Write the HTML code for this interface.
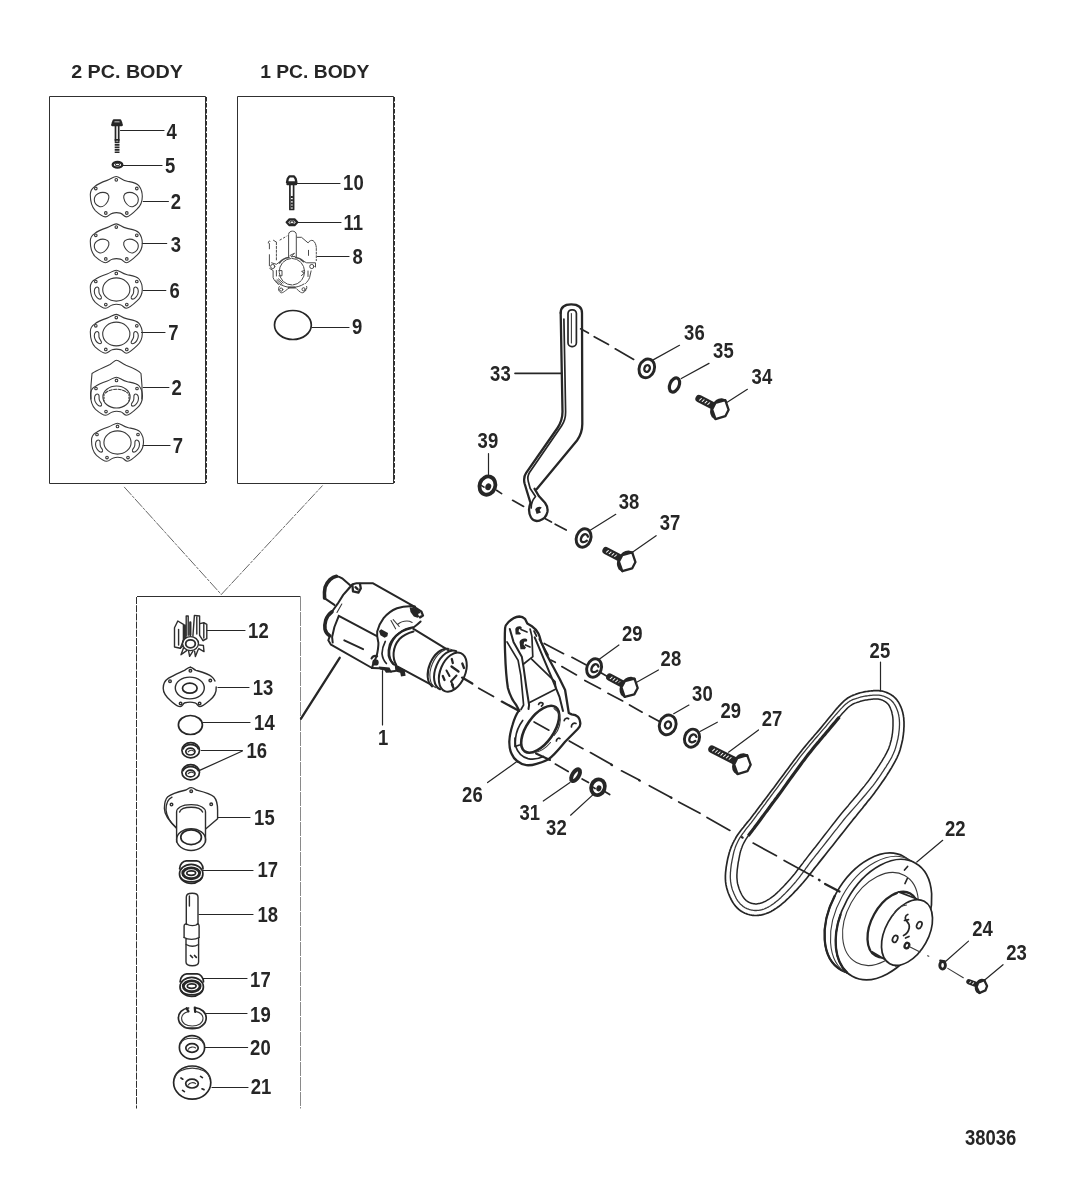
<!DOCTYPE html>
<html lang="en"><head><meta charset="utf-8"><title>Sea Water Pump Assembly 38036</title>
<style>
html,body{margin:0;padding:0;background:#fff;}
svg{display:block;}
text{font-family:"Liberation Sans",Arial,Helvetica,sans-serif;font-weight:bold;font-size:21.5px;fill:#262626;}
.t{font-size:18px;}
.l{fill:none;stroke:#262626;stroke-width:1.3;stroke-linecap:round;stroke-linejoin:round;}
.m{fill:none;stroke:#262626;stroke-width:1.7;stroke-linecap:round;stroke-linejoin:round;}
.h{fill:none;stroke:#262626;stroke-width:2.3;stroke-linecap:round;stroke-linejoin:round;}
.f{fill:none;stroke:#555;stroke-width:1;stroke-linecap:round;stroke-linejoin:round;}
.g{fill:none;stroke:#888;stroke-width:0.9;stroke-linecap:round;stroke-linejoin:round;}
.x{fill:none;stroke:#262626;stroke-width:2.9;stroke-linecap:round;stroke-linejoin:round;}
.q{fill:none;stroke:#262626;stroke-width:2;stroke-linecap:round;stroke-linejoin:round;}
.xx{fill:none;stroke:#262626;stroke-width:3.6;stroke-linecap:round;stroke-linejoin:round;}
.n{fill:none;stroke:#2e2e2e;stroke-width:1.4;stroke-linecap:round;stroke-linejoin:round;}
.w{fill:#fff;}
.p{fill:none;stroke:#3a3a3a;stroke-width:1.1;stroke-linecap:round;stroke-linejoin:round;}
.ld{fill:none;stroke:#262626;stroke-width:1.2;stroke-linecap:round;}
.fr{fill:none;stroke:#303030;stroke-width:1;}
.fd{fill:none;stroke:#303030;stroke-width:1;stroke-dasharray:4.5 1.5;}
.g8{fill:none;stroke:#4a4a4a;stroke-width:1;stroke-linecap:round;stroke-linejoin:round;}
.k{fill:#262626;stroke:none;}
</style></head>
<body>
<svg width="1084" height="1192" viewBox="0 0 1084 1192">
<rect width="1084" height="1192" fill="#fff"/>
<g id="frames">
<path class="fr" d="M49.5 483.5V96.5H205.5V483.5Z"/>
<path class="fd" d="M206.5 97V483"/>
<path class="fr" d="M237.5 483.5V96.5H393.5V483.5Z"/>
<path class="fd" d="M394.5 97V483"/>
<path class="fr" d="M137 596.5H300.5"/>
<path class="fd" d="M136.5 597V1108.5" style="stroke-dasharray:7 1.2"/><path class="fd" d="M300.5 597V1108.5" style="stroke:#8a8a8a;stroke-dasharray:14 1"/>
<path class="g" d="M124.4 487.2L221.3 594.5L322.3 485.8" stroke-dasharray="10 2 2 2" style="stroke:#555;stroke-width:0.9"/>
</g>
<path class="ld" d="M120.5 130.5L164.0 130.5M122.2 165.5L162.0 165.5M143.2 201.5L168.4 201.5M142.3 243.5L166.7 243.5M143.2 290.5L165.8 290.5M141.5 332.5L165.0 332.5M143.2 387.5L168.9 387.5M143.0 445.5L170.0 445.5M297.0 183.5L340.0 183.5M298.0 222.5L341.0 222.5M317.5 256.5L349.0 256.5M312.0 327.5L349.0 327.5M207.0 630.5L245.0 630.5M218.0 687.5L249.0 687.5M203.0 722.5L250.0 722.5M201.3 750.5L242.4 750.5M199.6 770.4L242.4 751.0M218.0 817.5L250.0 817.5M203.0 870.5L253.0 870.5M199.0 914.5L253.0 914.5M203.0 978.5L247.0 978.5M206.0 1013.5L247.0 1013.5M205.0 1047.5L247.6 1047.5M212.0 1087.5L248.0 1087.5M382.5 670.7L382.5 725.0M487.6 782.6L516.6 761.7M543.3 801.0L570.0 782.6M570.6 815.2L593.1 794.6M599.6 658.9L618.9 645.0M636.7 682.2L658.4 670.0M673.7 713.7L688.9 705.1M700.0 731.5L717.3 722.2M728.5 752.2L758.5 729.9M880.5 662.0L880.5 690.8M942.7 840.3L916.8 862.0M968.5 941.1L945.8 961.2M1003.0 964.7L985.0 979.8M488.5 453.6L488.5 474.6M653.6 359.6L679.5 345.3M681.3 378.5L709.0 363.4M726.0 403.1L747.4 389.3M590.2 530.2L615.8 514.3M631.7 552.8L656.1 535.7"/>
<path class="m" d="M515 373.3H562"/>
<path class="h" d="M301 718.7L339.7 657.8"/>
<g id="box1"><path class="h" d="M113.8 120.4H120.2L121.4 123.4H112.6ZM112.2 125H121.8"/><path class="m" d="M115.5 125.5V141M118.7 125.5V141"/><path d="M117.1 139V153" fill="none" stroke="#262626" stroke-width="4.8" stroke-dasharray="1.7 0.8"/>
<ellipse class="h" cx="117.5" cy="164.8" rx="4.8" ry="2.8"/><ellipse class="p" cx="117.5" cy="164.4" rx="2.2" ry="1.2"/>
<g class="p" transform="translate(116.3,196.4) scale(1.0,1.06)"><path d="M0,-18.8C3,-18.8 5,-15.5 10.9,-14.3C16,-13.3 20,-13 22.7,-10C25,-7 26,-3 26,0C26,5 24,9 21,11.7C17,15.5 13,19.3 10,19.3C7.5,19.3 7,16.5 4,15.8C2,15.3 -2,15.3 -4.2,16C-7,16.8 -8,19.3 -10.9,19.3C-14,19.3 -18,16 -21,13.4C-24,10.5 -26,5 -26,-1.7C-26,-5 -24.5,-7.5 -21.8,-9.2C-19,-11.5 -14,-13.5 -9.2,-15.1C-5,-16.5 -3,-18.8 0,-18.8Z"/><circle cx="0" cy="-15.6" r="1.3"/><circle cx="-20.5" cy="-7.5" r="1.3"/><circle cx="20.5" cy="-7.5" r="1.3"/><circle cx="-10.5" cy="15.6" r="1.3"/><circle cx="10.5" cy="15.6" r="1.3"/><path d="M-22,3C-22,-2 -16,-4.5 -11,-3.5C-7,-2.7 -6.5,1 -8.5,4.5C-10.5,8 -14,10.5 -17,9.5C-20,8.5 -22,6 -22,3Z"/><path d="M22,3C22,-2 16,-4.5 11,-3.5C7,-2.7 6.5,1 8.5,4.5C10.5,8 14,10.5 17,9.5C20,8.5 22,6 22,3Z"/></g>
<g class="p" transform="translate(116.3,243) scale(1.0,1.02)"><path d="M0,-18.8C3,-18.8 5,-15.5 10.9,-14.3C16,-13.3 20,-13 22.7,-10C25,-7 26,-3 26,0C26,5 24,9 21,11.7C17,15.5 13,19.3 10,19.3C7.5,19.3 7,16.5 4,15.8C2,15.3 -2,15.3 -4.2,16C-7,16.8 -8,19.3 -10.9,19.3C-14,19.3 -18,16 -21,13.4C-24,10.5 -26,5 -26,-1.7C-26,-5 -24.5,-7.5 -21.8,-9.2C-19,-11.5 -14,-13.5 -9.2,-15.1C-5,-16.5 -3,-18.8 0,-18.8Z"/><circle cx="0" cy="-15.6" r="1.3"/><circle cx="-20.5" cy="-7.5" r="1.3"/><circle cx="20.5" cy="-7.5" r="1.3"/><circle cx="-10.5" cy="15.6" r="1.3"/><circle cx="10.5" cy="15.6" r="1.3"/><path d="M-22,3C-22,-2 -16,-4.5 -11,-3.5C-7,-2.7 -6.5,1 -8.5,4.5C-10.5,8 -14,10.5 -17,9.5C-20,8.5 -22,6 -22,3Z"/><path d="M22,3C22,-2 16,-4.5 11,-3.5C7,-2.7 6.5,1 8.5,4.5C10.5,8 14,10.5 17,9.5C20,8.5 22,6 22,3Z"/></g>
<g class="p" transform="translate(116.3,289) scale(1,1)"><path d="M0,-18.8C3,-18.8 5,-15.5 10.9,-14.3C16,-13.3 20,-13 22.7,-10C25,-7 26,-3 26,0C26,5 24,9 21,11.7C17,15.5 13,19.3 10,19.3C7.5,19.3 7,16.5 4,15.8C2,15.3 -2,15.3 -4.2,16C-7,16.8 -8,19.3 -10.9,19.3C-14,19.3 -18,16 -21,13.4C-24,10.5 -26,5 -26,-1.7C-26,-5 -24.5,-7.5 -21.8,-9.2C-19,-11.5 -14,-13.5 -9.2,-15.1C-5,-16.5 -3,-18.8 0,-18.8Z"/><circle cx="0" cy="-15.6" r="1.3"/><circle cx="-20.5" cy="-7.5" r="1.3"/><circle cx="20.5" cy="-7.5" r="1.3"/><circle cx="-10.5" cy="15.6" r="1.3"/><circle cx="10.5" cy="15.6" r="1.3"/><ellipse cx="0" cy="0.5" rx="13.6" ry="11.6"/><path d="M-20.5,-1.5C-22.5,0 -22.5,4 -20.5,7C-19,9.3 -16.5,11 -15,9.5C-13.8,8.3 -16,6.8 -17,4.5C-18,2 -16.8,0 -17.8,-1.2C-18.5,-2 -19.5,-2.2 -20.5,-1.5Z"/><path d="M20.5,-1.5C22.5,0 22.5,4 20.5,7C19,9.3 16.5,11 15,9.5C13.8,8.3 16,6.8 17,4.5C18,2 16.8,0 17.8,-1.2C18.5,-2 19.5,-2.2 20.5,-1.5Z"/></g>
<g class="p" transform="translate(116.3,333.5) scale(1.0,1.02)"><path d="M0,-18.8C3,-18.8 5,-15.5 10.9,-14.3C16,-13.3 20,-13 22.7,-10C25,-7 26,-3 26,0C26,5 24,9 21,11.7C17,15.5 13,19.3 10,19.3C7.5,19.3 7,16.5 4,15.8C2,15.3 -2,15.3 -4.2,16C-7,16.8 -8,19.3 -10.9,19.3C-14,19.3 -18,16 -21,13.4C-24,10.5 -26,5 -26,-1.7C-26,-5 -24.5,-7.5 -21.8,-9.2C-19,-11.5 -14,-13.5 -9.2,-15.1C-5,-16.5 -3,-18.8 0,-18.8Z"/><circle cx="0" cy="-15.6" r="1.3"/><circle cx="-20.5" cy="-7.5" r="1.3"/><circle cx="20.5" cy="-7.5" r="1.3"/><circle cx="-10.5" cy="15.6" r="1.3"/><circle cx="10.5" cy="15.6" r="1.3"/><ellipse cx="0" cy="0.5" rx="13.6" ry="11.6"/><path d="M-20.5,-1.5C-22.5,0 -22.5,4 -20.5,7C-19,9.3 -16.5,11 -15,9.5C-13.8,8.3 -16,6.8 -17,4.5C-18,2 -16.8,0 -17.8,-1.2C-18.5,-2 -19.5,-2.2 -20.5,-1.5Z"/><path d="M20.5,-1.5C22.5,0 22.5,4 20.5,7C19,9.3 16.5,11 15,9.5C13.8,8.3 16,6.8 17,4.5C18,2 16.8,0 17.8,-1.2C18.5,-2 19.5,-2.2 20.5,-1.5Z"/></g>
<path class="p" d="M91,399C90.6,390 91,381 92,373.5C96,370.5 104,367.5 110,364.5C113,362.5 115,360.3 116.5,360.3C119,360.3 121,363 126,365.3C132,367.5 138,369.5 141,373.5C142,381 142.3,390 141.8,399"/>
<g class="p" transform="translate(116.5,396)"><path d="M0,-18.8C3,-18.8 5,-15.5 10.9,-14.3C16,-13.3 20,-13 22.7,-10C25,-7 26,-3 26,0C26,5 24,9 21,11.7C17,15.5 13,19.3 10,19.3C7.5,19.3 7,16.5 4,15.8C2,15.3 -2,15.3 -4.2,16C-7,16.8 -8,19.3 -10.9,19.3C-14,19.3 -18,16 -21,13.4C-24,10.5 -26,5 -26,-1.7C-26,-5 -24.5,-7.5 -21.8,-9.2C-19,-11.5 -14,-13.5 -9.2,-15.1C-5,-16.5 -3,-18.8 0,-18.8Z"/><circle cx="0" cy="-15.6" r="1.3"/><circle cx="-20.5" cy="-7.5" r="1.3"/><circle cx="20.5" cy="-7.5" r="1.3"/><circle cx="-10.5" cy="15.6" r="1.3"/><circle cx="10.5" cy="15.6" r="1.3"/><ellipse cx="0" cy="1" rx="13.6" ry="11"/><path d="M-11,-3C-6,-8 6,-8 11,-3" stroke-dasharray="3 1.5"/><path d="M-12.5,-2V5M12.5,-2V5" stroke-dasharray="1.5 1.5"/><path d="M-20.5,-1.5C-22.5,0 -22.5,4 -20.5,7C-19,9.3 -16.5,11 -15,9.5C-13.8,8.3 -16,6.8 -17,4.5C-18,2 -16.8,0 -17.8,-1.2C-18.5,-2 -19.5,-2.2 -20.5,-1.5Z"/><path d="M20.5,-1.5C22.5,0 22.5,4 20.5,7C19,9.3 16.5,11 15,9.5C13.8,8.3 16,6.8 17,4.5C18,2 16.8,0 17.8,-1.2C18.5,-2 19.5,-2.2 20.5,-1.5Z"/></g>
<g class="p" transform="translate(117.5,442) scale(1,1)"><path d="M0,-18.8C3,-18.8 5,-15.5 10.9,-14.3C16,-13.3 20,-13 22.7,-10C25,-7 26,-3 26,0C26,5 24,9 21,11.7C17,15.5 13,19.3 10,19.3C7.5,19.3 7,16.5 4,15.8C2,15.3 -2,15.3 -4.2,16C-7,16.8 -8,19.3 -10.9,19.3C-14,19.3 -18,16 -21,13.4C-24,10.5 -26,5 -26,-1.7C-26,-5 -24.5,-7.5 -21.8,-9.2C-19,-11.5 -14,-13.5 -9.2,-15.1C-5,-16.5 -3,-18.8 0,-18.8Z"/><circle cx="0" cy="-15.6" r="1.3"/><circle cx="-20.5" cy="-7.5" r="1.3"/><circle cx="20.5" cy="-7.5" r="1.3"/><circle cx="-10.5" cy="15.6" r="1.3"/><circle cx="10.5" cy="15.6" r="1.3"/><ellipse cx="0" cy="0.5" rx="13.6" ry="11.6"/><path d="M-20.5,-1.5C-22.5,0 -22.5,4 -20.5,7C-19,9.3 -16.5,11 -15,9.5C-13.8,8.3 -16,6.8 -17,4.5C-18,2 -16.8,0 -17.8,-1.2C-18.5,-2 -19.5,-2.2 -20.5,-1.5Z"/><path d="M20.5,-1.5C22.5,0 22.5,4 20.5,7C19,9.3 16.5,11 15,9.5C13.8,8.3 16,6.8 17,4.5C18,2 16.8,0 17.8,-1.2C18.5,-2 19.5,-2.2 20.5,-1.5Z"/></g></g>
<g id="box2">
<path class="h" d="M287.8 178.6L289.4 176.4H294L295.6 178.6L296.4 182.4H287ZM287.5 184.2H296"/>
<path class="m" d="M289.9 184.5V209.5H293.6V184.5"/>
<path d="M291.8 196V209" fill="none" stroke="#262626" stroke-width="2.2" stroke-dasharray="2 1.2"/>
<path class="h" d="M286.7 222.3L289.5 219.4H294.5L297.3 222.3L294.5 225.2H289.5Z"/><ellipse class="p" cx="292" cy="222.2" rx="2.1" ry="1.3"/>
<g class="g8">
<path d="M288.6 256.9V234.5C288.6 230 296.3 230 296.3 234.5V256.9"/>
<path d="M268.3 243C268.3 241.2 269.2 240.6 270 241.2" /><path d="M269.4 243.6V248.8M269.4 254.7V265.8"/>
<path d="M273.5 240.3L276.4 242.1"/><path d="M276.4 242.5V261.3" stroke-dasharray="2.2 1.6"/>
<path d="M280 240L287 236" stroke-dasharray="1.6 2.4"/>
<path d="M297.1 237.3H301.5L308.1 242.9C309 241 311.5 239.8 313 240.6C315 241.8 316 244.5 316.3 247.3"/>
<path d="M316.3 248.5V260.6" stroke-dasharray="2 1.6"/>
<path d="M308.5 250.3V255.4"/>
<ellipse cx="291.9" cy="271.7" rx="12.7" ry="13.3" stroke-dasharray="9 1.2"/>
<path d="M279.5 263C282 259.5 286 257.8 289 257.6M295.5 257.6C298 257.8 301 259 303.6 261.6" style="stroke-width:1.5"/>
<path d="M290 255.5L294.5 253.2L291 256.8L295 256.4"/>
<circle cx="272.7" cy="266.5" r="2.1"/><circle cx="311.8" cy="266.5" r="2.1"/>
<path d="M271.6 262.8L276.4 264.3L281 261M300.8 259.9L306.7 262.8H315.5V267"/>
<path d="M269.8 268.5L273.1 270.5V277.6C274 280 276 282.5 278.5 284.5M276.4 270.5V276"/>
<path d="M311.1 270.9L309.6 277.6C308.6 280 307.5 281.6 305.5 283.5M308 271V276.5"/>
<path d="M278.8 270.6H282V275.8H279M304.4 270.6L301.6 271.4L304.2 273.2L301.4 275.6"/>
<path d="M275.7 280.5L280.8 285M277 279.6L282 284M278.4 278.8L283.2 283" />
<path d="M279.4 286.4C278 288 278 291 280.8 292.7C283 293.5 286 290 289.7 287.5H294.9C298.5 290 300 293.2 302.8 292.7C305.9 291.5 307.3 288.5 306.7 286.4" stroke-dasharray="5 1.3"/>
<path d="M280.5 284.5C284 286.5 288 287.4 291.9 287.4C296 287.4 300.5 286.3 304 284" />
<path d="M288.8 287.6H294.6" style="stroke-width:2"/>
<circle cx="281.2" cy="289.6" r="1.6"/><circle cx="303.6" cy="289.3" r="1.6"/>
</g>
<ellipse class="m" cx="292.9" cy="325" rx="18.4" ry="14.5"/>
</g>
<g id="box3"><g class="n">
<path d="M174.5 647V627.8L177.8 621L183.4 624.4V640.3M174.5 647L180.3 648.2L183.2 641"/>
<path d="M178.6 629.5V645"/>
<path d="M186.2 636V616H188.2V635.3"/>
<path d="M184.8 625.5V637M190.3 622.5V635" style="stroke-width:2.3"/>
<path d="M192.9 636.1L194.4 615.4L199.6 616V635.3M196.8 616.2V634"/>
<path d="M199.8 623.6L203.8 622.7L206.8 624.4V638.7L203.2 640.5M203.8 622.7V638"/>
<path d="M199.6 635.3L203 640.6M183.4 640.3L186 637"/>
<path d="M183.5 648L181 654.8L186.6 650.6M188.6 651.2L189.6 656.4L192.8 651.4M194.6 651.2L195.4 656.6L198.2 649.6M198.8 648.6L204 651.6L203.4 645.4L199.4 645"/>
<path d="M180.3 648.2L183 646"/>
<ellipse cx="190.5" cy="643.6" rx="8" ry="7"/>
<ellipse cx="190.5" cy="643.8" rx="4.8" ry="4" style="stroke-width:1.8"/>
</g>
<g class="n">
<path d="M190.4 667.2C192.5 667.2 193.5 669.5 196 670.3C202 672 208 673.5 211.5 676.5C213.5 678.2 214.5 679.5 215 681" />
<path d="M216.2 687C216.6 692 214 697 209.5 700.5C206.5 703 203 706.6 199.8 706.6C197.5 706.6 197.5 703.5 195 702.8C192 702 188 702 185 702.8C182.5 703.5 182.8 706.6 180.3 706.6C177 706.6 174 703.5 171 701C166.5 697.2 163.2 693 163.2 688.2C163.2 684 165 680.5 168.6 678.2C173 675.5 180 672.5 184.5 670.3C187 669 188.3 667.2 190.4 667.2"/>
<ellipse cx="189.8" cy="688" rx="14.5" ry="10.9"/>
<ellipse class="m" cx="189.8" cy="688.2" rx="7.3" ry="5"/>
<circle cx="190.4" cy="670.8" r="1.3"/><circle cx="170" cy="681.2" r="1.3"/><circle cx="210.3" cy="680.6" r="1.3"/><circle cx="180.6" cy="703.5" r="1.3"/><circle cx="199.6" cy="703.5" r="1.3"/>
</g>
<ellipse class="m" cx="190.4" cy="725" rx="12" ry="9.5"/>
<g transform="translate(190.7,750.3)"><ellipse class="m" cx="0" cy="0" rx="8.8" ry="7.6"/><path class="m" d="M-7.6,-1.5C-5,-7 5,-7 7.6,-1.5"/><ellipse class="m" cx="-0.3" cy="1.3" rx="4.6" ry="3.4"/><path class="p" d="M-2.5,1.5C-1,-0.5 2,-0.5 2.8,0.8"/></g>
<g transform="translate(190.7,772.2)"><ellipse class="m" cx="0" cy="0" rx="8.8" ry="7.6"/><path class="m" d="M-7.6,-1.5C-5,-7 5,-7 7.6,-1.5"/><ellipse class="m" cx="-0.3" cy="1.3" rx="4.6" ry="3.4"/><path class="p" d="M-2.5,1.5C-1,-0.5 2,-0.5 2.8,0.8"/></g>
<g class="n">
<path d="M176.3 828C171 823 164.4 816 164.4 808.6C164.4 803 165.5 799 167.8 796.8C172 793.5 180 791.5 185 790.3C187.5 789.7 188.5 787.6 191.2 787.6C194 787.6 194.8 789.7 197 790.3C203 791.8 210.5 793.6 213.9 796.8C216.5 799.5 217.6 804 217.6 810.3V818.7L205.6 829"/>
<path d="M166 810C166 802 168 799 172 797.2M176 827.5C170 822 166.5 816 166 810" />
<path d="M176.6 842V812C176.6 808.5 181 804.6 191.2 804.6C201 804.6 205.5 808.5 205.5 812V842"/>
<path d="M179.6 812C180.5 809.3 185 807.3 191.2 807.3C197.5 807.3 201.5 809.3 202.6 812" />
<ellipse cx="191.1" cy="839.6" rx="14.5" ry="10.9"/>
<ellipse class="m" cx="191.1" cy="837.2" rx="10.3" ry="7.4"/>
<circle cx="191.2" cy="791.2" r="1.3"/><circle cx="171.5" cy="804.6" r="1.3"/><circle cx="211.2" cy="804.3" r="1.3"/>
</g>
<g transform="translate(191.2,872.3)"><path class="m" d="M-11.6,-3.5C-11.6,-8 -8,-11.3 -5,-11.5H5.5C8.5,-11.3 11.8,-8 11.8,-3.5"/><ellipse class="m" cx="0" cy="1.6" rx="11.7" ry="9.6"/><ellipse class="x" cx="0" cy="1" rx="8.4" ry="5.4"/><ellipse class="m" cx="0" cy="0.8" rx="4.4" ry="2.3"/><path class="m" d="M-10.5,5.5C-7,11 7,11 10.5,5.5"/></g>
<g class="n">
<path d="M186.3 924V897C186.3 892 198 892 198 897V924"/>
<path d="M189.4 896V906" /><path d="M186.3 924C190 926 195 926 198 924"/>
<path d="M184.1 937.5V926C184.1 924 186 923.6 187 924.4M199.1 937.5V926C199.1 924 197.5 923.6 196.8 924.4"/>
<path d="M184.1 937.5C188 940 195 940 199.1 937.5M186 938.6V962C186 967 198.6 967 198.6 962V938.6"/>
<path d="M186.2 944.5C190 946.6 195 946.6 198.5 944.5"/>
<path class="m" d="M190.5 955.5L192.5 957.5M194.5 955.5L196.3 957.3"/>
</g>
<g transform="translate(191.7,985.3)"><path class="m" d="M-11.6,-3.5C-11.6,-8 -8,-11.3 -5,-11.5H5.5C8.5,-11.3 11.8,-8 11.8,-3.5"/><ellipse class="m" cx="0" cy="1.6" rx="11.7" ry="9.6"/><ellipse class="x" cx="0" cy="1" rx="8.4" ry="5.4"/><ellipse class="m" cx="0" cy="0.8" rx="4.4" ry="2.3"/><path class="m" d="M-10.5,5.5C-7,11 7,11 10.5,5.5"/></g>
<g>
<path class="m" d="M188.6 1008C182 1008.6 178.4 1013 178.4 1018C178.4 1024 184 1028.6 192.2 1028.6C200.5 1028.6 206.2 1024 206.2 1018C206.2 1012.5 201.5 1008.3 195 1007.6"/>
<path class="p" d="M187.8 1011.8C183.5 1013 181.6 1015.5 181.6 1018.6C181.6 1023 186 1026 192.2 1026C198.5 1026 203 1023 203 1018.6C203 1015 200.5 1012.6 196.5 1011.6"/>
<path class="h" d="M186.6 1008.2L188.4 1011.4M194.8 1007.6L195.2 1011.8"/>
<path class="p" d="M180 1023L184.8 1027.8H199.5L204.6 1022.8"/>
</g>
<g>
<ellipse class="m" cx="192" cy="1047.4" rx="12.6" ry="11.7"/>
<path class="p" d="M180.8 1043.5C183 1036.5 201 1036.5 203.4 1043.5"/>
<ellipse class="m" cx="192" cy="1048" rx="6.2" ry="4.3"/>
<path class="p" d="M188.3 1049.2C189.5 1046.6 194 1046.6 195.6 1048"/>
</g>
<g>
<ellipse class="m" cx="192.2" cy="1082.6" rx="18.6" ry="16.6"/>
<path class="p" d="M174.6 1079C177 1064.5 207.5 1064.5 209.8 1079"/>
<ellipse class="m" cx="192" cy="1083.6" rx="6.3" ry="4.4"/>
<path class="p" d="M188.3 1085C189.5 1082.2 194 1082.2 195.6 1083.6"/>
<path class="m" d="M181 1078L182.8 1079.2M200.6 1076.4L202.4 1077.6M182.6 1090.4L184.4 1091.6M202 1088.8L204 1089.6"/>
</g></g>
<g id="pump">
<path class="xx" d="M324.6 598C324.2 594 324.4 590.5 325.1 587.3C326.2 584 328 581.5 330 579.6C332 577.8 334.3 576.6 336.4 576.3"/>
<path class="q" d="M336.4 576.2C338.8 576.4 340.4 577.2 342.1 578.3L351 586C348.5 589 345.8 591.8 343.2 594.9L337.7 603.7L332.1 611.5"/>
<path class="q" d="M324.4 598.2L334.4 604.9"/>
<path class="xx" d="M332 611.8C329 614 326.8 617 325.7 620.4C324.8 623.5 324.6 626.4 325 629.2C325.6 632 327.5 634.4 329.7 635.7"/>
<path class="q" d="M329.9 635.9L328.3 640.3L331 644.7L372 668"/>
<path class="q" d="M338.8 615.9L334.4 627L332.1 637L332.7 642.5M338.8 615.9L376.4 635.9"/>
<path class="p" d="M337 612.5L341.8 604"/>
<path class="q" d="M344.3 640.3L363.1 649.1"/>
<path class="q" d="M351 586L352.6 584.2L356.5 583.3H373.1L415.2 607.1"/>
<path class="h" d="M352.4 585L353 591.4L358.4 592.6L360.8 588.4L360 584"/>
<path class="h" d="M355.5 587.2L357.6 589.2"/>
<path class="h" d="M410.7 605.2L416.5 608.5L421.5 611.8L423 615.6L420 617.4"/>
<path class="k" d="M409.6 607.2L416 608.6L420 612L420.8 616L417.5 617.8L413.8 616.4L410.5 612Z"/>
<circle class="w" cx="419.6" cy="614.6" r="1.3"/>
<path class="q" d="M414.8 606.6C410 605.9 403 606.3 397 608.3C391.5 610.5 387 614 383.6 618.2C380.5 622.3 378.4 626.8 377.2 631.4C376.6 635.5 377.6 639 378.4 642.5C378.6 647.5 377.6 652 376.4 656.9C374.5 660.5 372.8 664 372 668"/>
<path class="q" d="M420.6 621.5C418 624 415.5 626 414.1 627C408.5 627.8 403 630 398.6 633.6C394.5 636.5 391.5 640.5 389.7 644.7C388.5 648.5 388.2 652.2 388.6 655.8C389.5 659.2 391.5 662.4 394.1 664.6"/>
<path class="m" d="M385.3 641.4C383.2 645.5 382 649.5 382 653.6C382.4 657.5 384 661 386.4 663.5"/>
<path class="p" d="M391 620.5L395.6 628.8M393.2 619.6L399.2 626.5M397.5 624.5C400.5 621.8 405 620.6 409.5 621.2L412.2 622.4"/>
<path class="k" d="M379 631L381.2 629.2L388 633L387.4 636.2L384.6 637.8L380.4 635.2Z"/>
<circle class="k" cx="375.5" cy="662.4" r="3.2"/>
<path class="q" d="M371.5 658.5C372.5 656.5 375 655.5 377.2 656.2"/>
<path class="k" d="M378.8 666.6L389.5 667.6L392 672.6L386 672.8L384.6 670.6L379.5 669.5Z"/>
<path class="k" d="M394.8 665.4L404.6 669.6L405.6 675.8L401 676.4L400.2 672.8L395.4 671.6Z"/>
<path class="q" d="M372 668L379 668.2M391 671.6L395.2 671"/>
<path class="q" d="M410.9 628.2C405 629.5 399.5 632.5 396 636C392 640.5 389.9 645.4 389.3 651C389 656.5 390.5 661 393.2 664.2"/>
<path class="q" d="M413.5 631.5C408 633 403 635.5 399.5 639C396 643 394 648 393.6 653C393.3 657.5 394.3 661.5 396.2 664.8"/>
<path class="q" d="M413.1 628.7L448.6 650.3M395.4 665.3L432 685.2"/>
<g transform="translate(452.8,672.1) rotate(23)">
<path class="q" d="M-13.5,-19.6A12.5,20.6 0 0 0 -13.5,21.2"/>
<path class="p" d="M-9.5,-20.3A12.5,20.6 0 0 0 -9.5,21"/>
<path class="q" d="M-5,-20.6A12.5,20.6 0 0 0 -5,20.8"/>
<ellipse class="q w" cx="0" cy="0" rx="12.4" ry="20.6"/>
</g>
<path class="h" d="M451.5 666.5L458.5 671.5M451.8 659L452.8 663M462.3 663.5L464 668M442.8 676L444.5 680M452 684.5L453.5 688"/>
<path class="q" d="M456.5 675.5L451 681.5L453 685M446.5 670.5L449.5 676"/>
</g>
<g id="bracket26">
<path class="h" d="M519.4,616.5C515,617 511,619.5 508.5,622C506.3,624.2 505.2,625.5 505.1,628C504.6,636 504.8,645 505.1,653C505.5,665 506.3,678 507.9,688C510,695.5 513,701 516.2,705L519,710.3C516,714.5 514,719.5 512.5,725C510.8,730.5 509.5,736 509.3,741.7C509.3,746.5 510,750.5 511.6,753.7C513,757 514.8,759.3 517.1,761C520,763.4 523,764.8 526.4,765.2C530,765.5 533.5,764.8 536.5,763.8C541,762.6 545,761.2 548.5,759.2C555,754.5 560.5,747 565.1,741.7L578,728.7C579.8,727 580.5,725.2 580.3,723.2C580,720.5 579.5,718.2 578,716.8C576.3,715.2 574,714.6 571.6,714.4L568.8,713L565.1,690L559.6,678.8L546.7,654.8L541.1,641.9C540.3,638.8 539.6,636 538.4,633.6C536.8,630.5 534.5,628 531.9,626.2L527.3,623.5L525,618.8C523.3,617.2 521.5,616.5 519.4,616.5Z"/>
<path class="q" d="M509.8,629L513.5,641.9L521.8,656.7L523.6,667.7L526.4,688L529.1,705L528.5,709"/>
<path class="m" d="M507,641.9L518.1,660.4L520.8,675.1L523.6,705L521,709.5"/>
<path class="m" d="M523.6,664L532.8,656.7L531.9,636.4L530.1,629M531.9,659.4L555,681.6L555.9,689L529.1,702.8"/>
<path class="q" d="M534.7,637.3L552.2,678.8L559.6,697.2L563,711"/>
<path class="m" d="M539.3,639.1L548,655M534,631L536.5,636"/>
<path class="k" d="M515.3,629C515.6,626.8 518.5,625.6 520.8,626.4C521.8,626.8 522,628 521.4,628.8L519,629.2L518.6,631.5L521,633.5L520,634.6H515.6Z"/>
<path class="k" d="M519.5,642C520.2,639.2 523.5,638 526.2,638.8C527.3,639.2 527.6,640.5 526.8,641.4L524.2,641.8L523.6,644.5L526,647.5L524.8,649.3H520.5Z"/>
<path class="m" d="M521,629.5L527,632M525.5,645L530,647"/>
<ellipse class="h" cx="540.2" cy="729.2" rx="27" ry="13.5" transform="rotate(-55 540.2 729.2)" style="stroke-width:2.6"/>
<path class="p" d="M554,708.5C559.5,712 561.5,718 559.5,725.5C558.5,729.5 556.5,733 554,735.5M550.5,742.5C546,748 540,752 533.8,752.8"/>
<path class="m" d="M522.7,720.4C518.5,726 516.2,732 515.6,738C515.2,741 515.2,743.5 515.5,746"/>
<path class="m" d="M515.5,746C517.5,752 522,757 528,758.6C533,759.8 538,759 543.5,756.5"/>
<path class="m" d="M515,738V746.5L519.5,745"/>
<path class="m" d="M538.6,704.5C539,702.5 541.5,702 542.8,703.2C543.5,704 542.5,705.5 541.5,706"/>
<path class="m" d="M564.2,720.6C564.6,718.4 567,717.6 568.6,718.8M571.4,727C571.2,724 574,722.4 576,723.4M556.4,741C556.4,738.8 558.6,737.6 560,738.6"/>
<path class="q" d="M536,753.5L550,760"/>
</g>
<g id="belt"><path class="m" d="M873.6 690.7L874.6 690.6L875.5 690.6L876.5 690.6L877.3 690.6L878.2 690.6L879.0 690.7L879.8 690.8L880.6 690.8L881.4 691.0L882.1 691.1L882.9 691.3L883.7 691.5L884.4 691.7L885.2 692.0L886.0 692.3L886.8 692.6L887.6 692.9L888.4 693.3L889.2 693.7L890.0 694.1L890.7 694.6L891.5 695.0L892.2 695.5L893.0 696.0L893.7 696.6L894.3 697.2L895.0 697.8L895.6 698.4L896.2 699.1L896.8 699.8L897.3 700.5L897.8 701.3L898.4 702.1L898.9 702.9L899.3 703.7L899.8 704.6L900.2 705.5L900.6 706.3L901.0 707.2L901.4 708.2L901.7 709.1L902.0 710.0L902.3 710.9L902.6 711.9L902.8 712.8L903.0 713.8L903.2 714.7L903.4 715.7L903.5 716.7L903.7 717.7L903.8 718.7L903.8 719.8L903.9 720.9L904.0 721.9L904.0 723.1L904.0 724.2L904.0 725.4L904.0 726.6L903.9 727.8L903.8 729.1L903.8 730.4L903.7 731.7L903.5 733.0L903.4 734.3L903.2 735.7L903.0 737.0L902.8 738.4L902.6 739.7L902.3 741.0L902.0 742.3L901.7 743.6L901.4 744.8L901.1 746.0L900.8 747.2L900.5 748.3L900.2 749.5L899.8 750.7L899.4 751.9L898.9 753.2L898.4 754.5L897.8 755.8L897.2 757.3L896.4 758.8L895.6 760.4L894.7 762.1L893.7 763.9L892.7 765.7L891.6 767.6L890.4 769.5L889.2 771.5L887.9 773.5L886.6 775.6L885.2 777.7L883.7 779.9L882.2 782.1L880.7 784.3L879.1 786.5L877.5 788.8L875.8 791.1L874.1 793.4L872.3 795.8L870.4 798.2L868.4 800.6L866.5 803.1L864.4 805.6L862.4 808.2L860.3 810.7L858.2 813.3L856.1 816.0L853.9 818.6L851.8 821.3L849.6 824.0L847.4 826.8L845.1 829.7L842.7 832.8L840.2 835.9L837.7 839.0L835.2 842.2L832.7 845.4L830.2 848.5L827.8 851.5L825.5 854.5L823.2 857.4L821.0 860.1L819.0 862.6L817.2 864.9L815.5 867.0L814.0 868.9L812.6 870.7L811.3 872.4L810.1 873.9L809.0 875.3L807.9 876.7L806.9 878.0L805.9 879.2L804.8 880.5L803.8 881.7L802.7 883.0L801.6 884.2L800.4 885.6L799.1 887.0L797.9 888.4L796.6 889.8L795.2 891.2L793.9 892.6L792.6 894.0L791.3 895.3L789.9 896.7L788.6 898.0L787.3 899.2L786.0 900.4L784.8 901.6L783.5 902.7L782.3 903.7L781.1 904.7L779.9 905.6L778.8 906.5L777.6 907.3L776.5 908.1L775.4 908.8L774.3 909.5L773.2 910.2L772.1 910.8L771.1 911.4L770.0 911.9L768.9 912.4L767.9 912.9L766.8 913.3L765.7 913.7L764.7 914.0L763.6 914.4L762.6 914.6L761.6 914.9L760.6 915.1L759.5 915.2L758.5 915.3L757.5 915.4L756.5 915.5L755.5 915.5L754.5 915.5L753.6 915.4L752.6 915.3L751.6 915.2L750.7 915.0L749.7 914.8L748.7 914.5L747.7 914.2L746.8 913.9L745.8 913.5L744.9 913.2L744.0 912.7L743.1 912.3L742.2 911.8L741.3 911.2L740.5 910.7L739.7 910.1L738.9 909.5L738.2 908.8L737.4 908.2L736.7 907.4L736.0 906.7L735.4 905.9L734.7 905.1L734.1 904.3L733.5 903.4L732.9 902.5L732.3 901.5L731.8 900.6L731.2 899.5L730.7 898.5L730.2 897.4L729.7 896.3L729.2 895.1L728.7 894.0L728.2 892.7L727.8 891.5L727.4 890.2L727.0 888.9L726.6 887.5L726.3 886.1L726.0 884.7L725.8 883.3L725.6 881.9L725.5 880.4L725.4 878.9L725.4 877.3L725.4 875.7L725.5 874.0L725.6 872.3L725.8 870.6L726.0 868.9L726.2 867.1L726.5 865.4L726.8 863.7L727.1 862.0L727.4 860.4L727.7 858.8L728.1 857.2L728.5 855.7L728.9 854.3L729.2 852.8L729.7 851.5L730.1 850.1L730.6 848.8L731.1 847.4L731.6 846.1L732.2 844.8L732.8 843.4L733.5 842.1L734.2 840.7L735.0 839.3L735.8 837.8L736.7 836.3L737.7 834.8L738.8 833.3L739.9 831.8L741.0 830.3L742.2 828.8L743.5 827.2L744.7 825.6L746.0 824.0L747.3 822.4L748.7 820.8L750.0 819.2L751.3 817.5L752.6 815.8L753.9 814.1L755.2 812.4L756.4 810.7L757.7 809.0L759.0 807.3L760.3 805.6L761.6 803.9L762.9 802.1L764.3 800.2L765.8 798.3L767.2 796.4L768.8 794.3L770.3 792.2L772.0 790.0L773.8 787.7L775.6 785.2L777.6 782.5L779.6 779.8L781.7 777.0L783.8 774.2L785.9 771.3L788.1 768.4L790.2 765.6L792.3 762.8L794.3 760.1L796.3 757.5L798.2 755.0L800.0 752.7L801.7 750.6L803.3 748.5L804.9 746.6L806.4 744.8L807.9 743.0L809.3 741.3L810.7 739.7L812.1 738.1L813.5 736.5L814.9 734.8L816.3 733.2L817.7 731.6L819.2 729.9L820.7 728.1L822.2 726.3L823.8 724.3L825.5 722.3L827.1 720.3L828.7 718.3L830.4 716.2L832.1 714.2L833.7 712.2L835.3 710.3L836.9 708.4L838.4 706.7L839.9 705.1L841.3 703.6L842.6 702.3L843.8 701.2L845.0 700.1L846.1 699.3L847.1 698.5L848.1 697.8L849.1 697.2L850.0 696.7L850.9 696.2L851.9 695.8L852.8 695.4L853.7 695.0L854.7 694.7L855.7 694.3L856.8 693.9L857.9 693.5L859.1 693.1L860.3 692.8L861.6 692.5L862.8 692.2L864.1 691.9L865.4 691.7L866.6 691.5L867.9 691.3L869.1 691.1L870.3 691.0L871.5 690.9L872.6 690.8Z"/><path class="p" d="M873.9 695.2L874.8 695.1L875.7 695.1L876.5 695.1L877.2 695.1L878.0 695.1L878.6 695.2L879.3 695.2L879.9 695.3L880.6 695.4L881.2 695.5L881.8 695.7L882.4 695.8L883.1 696.0L883.7 696.2L884.4 696.5L885.1 696.8L885.8 697.1L886.4 697.4L887.1 697.7L887.8 698.1L888.4 698.4L889.1 698.8L889.7 699.2L890.3 699.6L890.8 700.1L891.3 700.5L891.8 701.0L892.3 701.5L892.8 702.0L893.2 702.5L893.7 703.1L894.1 703.8L894.5 704.4L895.0 705.1L895.4 705.9L895.8 706.6L896.1 707.4L896.5 708.2L896.8 709.0L897.1 709.8L897.4 710.6L897.7 711.4L898.0 712.2L898.2 713.0L898.4 713.9L898.6 714.7L898.8 715.6L898.9 716.4L899.1 717.3L899.2 718.2L899.3 719.2L899.4 720.1L899.4 721.1L899.5 722.1L899.5 723.1L899.5 724.2L899.5 725.3L899.4 726.4L899.4 727.6L899.3 728.8L899.2 730.0L899.0 731.3L898.9 732.5L898.7 733.8L898.6 735.0L898.3 736.3L898.1 737.6L897.9 738.8L897.6 740.0L897.3 741.2L897.0 742.5L896.7 743.7L896.4 744.8L896.1 745.9L895.8 747.0L895.5 748.1L895.1 749.2L894.8 750.3L894.3 751.4L893.8 752.6L893.3 753.8L892.7 755.1L892.0 756.6L891.2 758.1L890.3 759.7L889.3 761.4L888.3 763.1L887.1 764.9L886.0 766.8L884.7 768.7L883.5 770.7L882.1 772.7L880.7 774.8L879.3 776.9L877.8 779.0L876.3 781.2L874.7 783.4L873.0 785.6L871.3 787.7L869.5 789.9L867.6 792.2L865.7 794.5L863.7 796.8L861.6 799.2L859.5 801.6L857.4 804.1L855.2 806.6L853.0 809.1L850.7 811.7L848.5 814.2L846.2 816.9L844.0 819.5L841.8 822.3L839.4 825.3L837.1 828.3L834.6 831.4L832.1 834.6L829.6 837.8L827.1 841.0L824.7 844.1L822.3 847.2L819.9 850.1L817.7 853.0L815.5 855.7L813.6 858.2L811.7 860.5L810.1 862.7L808.6 864.7L807.3 866.5L806.0 868.2L804.9 869.8L803.8 871.3L802.8 872.6L801.9 873.9L800.9 875.2L800.0 876.5L799.1 877.7L798.1 878.9L797.0 880.2L795.9 881.6L794.7 883.0L793.5 884.4L792.2 885.8L791.0 887.2L789.7 888.6L788.4 890.0L787.2 891.3L785.9 892.6L784.7 893.9L783.4 895.1L782.2 896.3L781.1 897.4L779.9 898.5L778.8 899.5L777.7 900.4L776.6 901.3L775.6 902.1L774.5 902.9L773.5 903.7L772.5 904.4L771.5 905.0L770.6 905.7L769.6 906.3L768.7 906.8L767.7 907.3L766.8 907.8L765.9 908.2L765.0 908.6L764.1 909.0L763.2 909.3L762.3 909.5L761.4 909.8L760.6 910.0L759.7 910.1L758.9 910.3L758.0 910.4L757.2 910.4L756.4 910.5L755.6 910.5L754.8 910.5L754.0 910.4L753.2 910.3L752.4 910.2L751.6 910.1L750.8 909.9L750.0 909.7L749.3 909.5L748.5 909.2L747.7 908.9L746.9 908.6L746.2 908.2L745.4 907.9L744.7 907.5L744.0 907.0L743.4 906.6L742.7 906.1L742.1 905.6L741.5 905.1L740.9 904.6L740.3 904.0L739.8 903.4L739.2 902.7L738.7 902.0L738.1 901.3L737.6 900.6L737.1 899.8L736.6 899.0L736.1 898.1L735.7 897.3L735.2 896.3L734.7 895.3L734.3 894.3L733.8 893.2L733.4 892.1L732.9 891.0L732.5 889.9L732.1 888.7L731.8 887.5L731.5 886.3L731.2 885.1L731.0 883.9L730.8 882.6L730.6 881.4L730.5 880.1L730.4 878.8L730.3 877.3L730.3 875.9L730.4 874.3L730.4 872.7L730.6 871.1L730.7 869.5L730.9 867.8L731.1 866.1L731.3 864.5L731.6 862.9L731.9 861.3L732.2 859.7L732.5 858.3L732.8 856.8L733.1 855.4L733.4 854.0L733.7 852.7L734.0 851.4L734.4 850.1L734.8 848.9L735.2 847.6L735.7 846.3L736.2 845.0L736.8 843.7L737.4 842.4L738.1 841.0L738.8 839.6L739.6 838.2L740.5 836.8L741.5 835.3L742.5 833.8L743.7 832.3L744.8 830.8L746.0 829.2L747.2 827.7L748.5 826.1L749.8 824.4L751.1 822.8L752.4 821.1L753.7 819.4L755.0 817.6L756.3 815.9L757.5 814.2L758.8 812.5L760.1 810.8L761.3 809.1L762.6 807.4L763.9 805.6L765.3 803.8L766.6 801.9L768.0 800.0L769.5 798.1L771.0 796.0L772.6 793.9L774.2 791.7L776.0 789.3L777.9 786.8L779.8 784.2L781.8 781.5L783.9 778.7L786.0 775.8L788.2 772.9L790.3 770.1L792.4 767.2L794.5 764.5L796.6 761.8L798.5 759.2L800.4 756.7L802.2 754.4L803.9 752.3L805.5 750.3L807.1 748.4L808.6 746.6L810.0 744.8L811.5 743.1L812.9 741.5L814.2 739.9L815.6 738.3L817.0 736.7L818.4 735.1L819.9 733.4L821.3 731.7L822.8 729.9L824.4 728.1L826.1 726.2L827.7 724.2L829.4 722.2L831.1 720.2L832.8 718.2L834.5 716.2L836.2 714.2L837.8 712.4L839.4 710.6L840.9 708.9L842.4 707.4L843.7 706.0L845.0 704.8L846.2 703.8L847.3 702.9L848.3 702.1L849.3 701.5L850.2 700.9L851.0 700.5L851.8 700.1L852.6 699.7L853.4 699.4L854.3 699.1L855.2 698.8L856.1 698.5L857.2 698.2L858.2 697.9L859.3 697.5L860.3 697.2L861.4 696.9L862.6 696.6L863.7 696.4L864.9 696.2L866.1 696.0L867.3 695.8L868.5 695.6L869.7 695.5L870.8 695.4L871.9 695.3L872.9 695.2Z" style="stroke-width:1.3"/><path class="m" d="M874.2 699.1L875.0 699.0L875.8 699.0L876.5 699.0L877.2 699.1L877.8 699.1L878.3 699.1L878.9 699.2L879.4 699.3L879.9 699.4L880.3 699.5L880.8 699.6L881.3 699.8L881.8 699.9L882.4 700.1L882.9 700.4L883.5 700.7L884.0 701.0L884.6 701.3L885.1 701.6L885.6 702.0L886.1 702.3L886.6 702.7L887.0 703.1L887.4 703.4L887.8 703.8L888.1 704.2L888.4 704.5L888.7 704.9L888.9 705.3L889.2 705.7L889.4 706.2L889.7 706.7L890.0 707.3L890.3 707.9L890.5 708.5L890.8 709.1L891.0 709.8L891.3 710.5L891.5 711.1L891.7 711.8L891.9 712.5L892.0 713.2L892.2 713.9L892.3 714.6L892.5 715.3L892.6 716.0L892.7 716.7L892.8 717.4L892.9 718.2L892.9 718.9L893.0 719.7L893.0 720.6L893.0 721.4L893.0 722.3L893.0 723.2L893.0 724.2L893.0 725.2L893.0 726.2L892.9 727.3L892.9 728.4L892.8 729.6L892.7 730.7L892.6 731.9L892.5 733.0L892.3 734.2L892.1 735.3L892.0 736.5L891.7 737.6L891.5 738.7L891.3 739.9L891.0 741.1L890.6 742.2L890.3 743.3L890.1 744.4L889.8 745.3L889.4 746.3L889.1 747.2L888.8 748.1L888.4 749.1L887.9 750.1L887.4 751.2L886.8 752.4L886.2 753.7L885.4 755.0L884.6 756.6L883.6 758.2L882.6 759.9L881.6 761.6L880.4 763.4L879.2 765.3L878.0 767.2L876.7 769.2L875.3 771.2L873.9 773.3L872.4 775.3L870.9 777.5L869.4 779.6L867.8 781.8L866.1 783.9L864.4 786.1L862.6 788.3L860.7 790.6L858.8 793.0L856.8 795.4L854.8 797.8L852.7 800.3L850.5 802.8L848.4 805.4L846.2 808.0L844.0 810.6L841.7 813.3L839.5 816.0L837.3 818.8L835.0 821.8L832.6 824.8L830.2 827.9L827.7 831.1L825.2 834.3L822.7 837.5L820.3 840.6L817.9 843.7L815.6 846.7L813.3 849.5L811.2 852.3L809.2 854.8L807.4 857.1L805.8 859.3L804.2 861.2L802.9 863.1L801.6 864.7L800.4 866.3L799.3 867.7L798.3 869.1L797.3 870.3L796.4 871.5L795.5 872.7L794.6 873.9L793.6 875.1L792.6 876.3L791.5 877.6L790.3 878.9L789.1 880.3L787.8 881.7L786.6 883.1L785.3 884.4L784.1 885.8L782.9 887.1L781.6 888.3L780.4 889.5L779.3 890.7L778.1 891.8L777.0 892.9L775.9 893.9L774.9 894.8L773.9 895.6L772.9 896.4L771.9 897.1L770.9 897.8L770.0 898.5L769.1 899.1L768.2 899.6L767.3 900.2L766.5 900.6L765.7 901.1L764.9 901.5L764.1 901.8L763.3 902.2L762.6 902.5L761.9 902.8L761.2 903.0L760.5 903.2L759.8 903.4L759.2 903.5L758.6 903.6L758.0 903.7L757.4 903.8L756.8 903.9L756.2 903.9L755.6 903.9L755.1 903.9L754.5 903.8L754.0 903.8L753.4 903.7L752.9 903.6L752.4 903.5L751.8 903.4L751.3 903.2L750.7 903.0L750.1 902.8L749.6 902.6L749.1 902.3L748.5 902.0L748.1 901.8L747.6 901.5L747.2 901.2L746.7 900.9L746.3 900.6L745.9 900.2L745.5 899.8L745.1 899.4L744.7 899.0L744.3 898.5L743.9 898.0L743.5 897.5L743.1 896.9L742.7 896.3L742.3 895.7L741.9 895.0L741.5 894.3L741.2 893.5L740.7 892.6L740.3 891.6L739.9 890.7L739.5 889.7L739.1 888.7L738.8 887.7L738.5 886.7L738.2 885.7L737.9 884.7L737.6 883.7L737.4 882.7L737.3 881.7L737.2 880.7L737.1 879.7L737.0 878.6L736.9 877.4L736.9 876.1L736.9 874.7L737.0 873.2L737.1 871.8L737.2 870.2L737.4 868.7L737.6 867.1L737.8 865.6L738.0 864.1L738.2 862.6L738.5 861.2L738.8 859.8L739.0 858.4L739.3 857.1L739.5 855.8L739.8 854.6L740.0 853.4L740.3 852.3L740.6 851.1L741.0 850.0L741.3 848.9L741.8 847.7L742.2 846.5L742.7 845.3L743.3 844.0L744.0 842.7L744.7 841.4L745.4 840.1L746.3 838.7L747.2 837.3L748.3 835.9L749.3 834.4L750.5 832.8L751.7 831.3L752.9 829.6L754.2 828.0L755.4 826.3L756.8 824.5L758.1 822.8L759.4 821.0L760.7 819.2L761.9 817.5L763.2 815.8L764.4 814.1L765.7 812.4L767.0 810.7L768.3 808.9L769.7 807.1L771.0 805.2L772.4 803.3L773.9 801.4L775.4 799.3L777.0 797.2L778.6 795.0L780.4 792.6L782.2 790.1L784.1 787.4L786.1 784.6L788.1 781.8L790.2 778.9L792.3 776.0L794.4 773.1L796.5 770.3L798.5 767.5L800.5 764.7L802.4 762.1L804.3 759.7L806.0 757.4L807.6 755.3L809.2 753.3L810.7 751.4L812.2 749.6L813.6 747.8L815.0 746.1L816.3 744.5L817.7 742.9L819.1 741.3L820.4 739.6L821.8 738.0L823.2 736.3L824.7 734.6L826.2 732.7L827.8 730.9L829.4 728.9L831.1 726.9L832.8 724.9L834.5 722.9L836.1 720.9L837.8 718.9L839.4 716.9L841.0 715.1L842.5 713.3L844.0 711.7L845.4 710.2L846.7 708.9L847.8 707.8L848.9 706.8L850.0 706.0L850.9 705.4L851.7 704.8L852.4 704.3L853.1 704.0L853.7 703.7L854.4 703.4L855.1 703.1L855.8 702.9L856.6 702.6L857.5 702.3L858.6 702.0L859.6 701.6L860.5 701.3L861.5 701.0L862.4 700.8L863.5 700.5L864.6 700.3L865.7 700.1L866.8 699.9L867.9 699.7L869.0 699.5L870.1 699.4L871.2 699.3L872.2 699.2L873.2 699.1Z" style="stroke-width:1.5"/><path d="M748.3 835.9L749.3 834.4L750.5 832.8L751.7 831.3L752.9 829.6L754.2 828.0L755.4 826.3L756.8 824.5L758.1 822.8L759.4 821.0L760.7 819.2L761.9 817.5L763.2 815.8L764.4 814.1L765.7 812.4L767.0 810.7L768.3 808.9L769.7 807.1L771.0 805.2L772.4 803.3L773.9 801.4L775.4 799.3L777.0 797.2L778.6 795.0L780.4 792.6L782.2 790.1L784.1 787.4L786.1 784.6L788.1 781.8L790.2 778.9L792.3 776.0L794.4 773.1L796.5 770.3L798.5 767.5L800.5 764.7L802.4 762.1L804.3 759.7L806.0 757.4L807.6 755.3L809.2 753.3L810.7 751.4L812.2 749.6L813.6 747.8L815.0 746.1L816.3 744.5L817.7 742.9L819.1 741.3L820.4 739.6L821.8 738.0L823.2 736.3L824.7 734.6L826.2 732.7L827.8 730.9L829.4 728.9L831.1 726.9L832.8 724.9L834.5 722.9L836.1 720.9L837.8 718.9L839.4 716.9" fill="none" stroke="#262626" stroke-width="3.2"/></g>
<g id="pulley"><ellipse class="m w" cx="872.6" cy="913.3" rx="41.6" ry="64.8" transform="rotate(29 872.6 913.3)" />
<ellipse class="h" cx="872.6" cy="913.3" rx="41.6" ry="64.8" transform="rotate(29 872.6 913.3)" pathLength="100" stroke-dasharray="0 22 27 51"/>
<ellipse class="p w" cx="878.5" cy="916.6" rx="41.6" ry="64.8" transform="rotate(29 878.5 916.6)" />
<ellipse class="m w" cx="883.7" cy="919.6" rx="41.6" ry="64.8" transform="rotate(29 883.7 919.6)" />
<ellipse class="h" cx="883.7" cy="919.6" rx="41.6" ry="64.8" transform="rotate(29 883.7 919.6)" pathLength="100" stroke-dasharray="0 27 18 55"/>
<ellipse class="p w" cx="880.5" cy="919" rx="33.5" ry="49.8" transform="rotate(29 880.5 919)" />
<ellipse class="h w" cx="893" cy="924.7" rx="21.5" ry="35.6" transform="rotate(29 893 924.7)" />
<path class="w" d="M898.6 891.9L916.5 898.8L932 920L895.8 965.9L870.9 950.7Z"/>
<path class="m" d="M898.6 891.9L917 899M871.5 951.5L896 966"/>
<ellipse class="m w" cx="907" cy="932.5" rx="21.5" ry="35.6" transform="rotate(29 907 932.5)" />
<path class="p" d="M893 915.4C895 909.5 901 905.5 906.5 905"/>
<ellipse class="m" cx="919.3" cy="925.1" rx="2.4" ry="3.6" transform="rotate(25 919.3 925.1)"/>
<ellipse class="m" cx="895.1" cy="938.9" rx="2.4" ry="3.6" transform="rotate(25 895.1 938.9)"/>
<ellipse class="h" cx="906.9" cy="945.6" rx="2.2" ry="2.8" transform="rotate(25 906.9 945.6)"/>
<path class="m" d="M907.8 914.5C905 915.5 904.5 919 906.5 921C908 922.5 910 924 909.2 928C908.5 931.5 906 934.5 903.5 935.5M904.5 920.5L908.5 919.6M905.5 938L909 936.5"/>
<path class="m" d="M904.5 870L907.6 866.5M905 883.5L907.3 878.5"/></g>
<g id="axes"><path class="m" d="M580.6 328.8L588.4 333.1M594.2 336.7L608.5 344.6M615.2 348.8L633.7 359.4"/>
<path class="m" d="M496.5 490.3L501.6 493.6M512.6 500.3L523.6 506.4M544.9 518.4L551.4 522.0M555.2 524.2L566.2 530.0"/>
<path class="m" d="M544.2 643.5L563.6 653.7M571.9 657.3L585.8 664.7M600.5 672.5L606.5 676.0"/>
<path class="m" d="M550.7 660.1L555.3 662.3M561.8 666.6L576.5 674.9M584.8 680.4L600.5 688.7M607.9 693.3L622.7 700.9M629.5 705.0L642.2 712.2M649.3 716.0L659.5 721.5"/>
<path class="h" d="M462.1 677.6L472.3 683.6M501.8 701.6L519.3 710.9M825.1 884.0L839.5 891.5"/>
<path class="m" d="M478.7 688.2L493.5 696.6M534.1 721.9L548.9 730.2M569.2 741.0L583.0 748.7M590.4 752.6L611.6 764.6M621.5 770.8L638.8 779.8M649.3 785.7L670.6 797.2M678.7 802.0L700.0 813.3M707.0 817.4L729.9 830.4M753.1 843.1L776.4 855.8M784.1 860.4L812.9 876.3"/>
<path class="h" d="M611.4 764.7L612.0 765.1M639.2 780.2L639.8 780.6M670.8 797.4L671.4 797.8M742.0 837.2L742.6 837.6M819.0 879.8L819.6 880.2"/>
<path class="m" d="M555.3 764.1L568.2 771.5M582.1 778.9L588.5 782.6M605.1 791.8L609.7 794.6"/>
<path class="p" d="M909.6 946.7L920.0 951.9M927.6 955.7L928.8 956.3M947.8 968.4L963.3 977.7"/></g>
<g id="hardware"><g transform="rotate(20 594.1 668)"><ellipse class="x" cx="594.1" cy="668" rx="7.2" ry="9.4"/><path class="h" d="M597.7,665.2C594.8,661.4 591.2,665.2 591.9,669.9C592.7,673.2 596.3,672.7 598.1,669.4"/></g>
<g transform="translate(606.6,675.4) rotate(28.3)"><path d="M3.7,0H16.5" fill="none" stroke="#262626" stroke-width="7.4" stroke-linecap="round"/><path d="M4.7,0H14.5" fill="none" stroke="#fff" stroke-width="3.1" stroke-dasharray="1 2.1" transform="skewX(-20)"/><path class="x w" d="M26.1,-9.8L22.6,-9.1A7.1,9.8 0 0 0 22.6,9.1L26.1,9.8"/><path class="h w" d="M33.4,3.6L26.1,10.4L18.8,3.6L18.8,-3.6L26.1,-10.4L33.4,-3.6Z"/></g>
<g transform="rotate(20 667.7 724.9)"><ellipse class="x" cx="667.7" cy="724.9" rx="8.2" ry="10"/><ellipse class="h" cx="668.0" cy="724.9" rx="3.0" ry="3.6"/></g>
<g transform="rotate(20 692 738.2)"><ellipse class="x" cx="692" cy="738.2" rx="7.4" ry="9.2"/><path class="h" d="M695.7,735.4C692.7,731.8 689.0,735.4 689.8,740.0C690.5,743.3 694.2,742.8 696.1,739.6"/></g>
<g transform="translate(708.7,747.6) rotate(26.8)"><path d="M3.9,0H27.9" fill="none" stroke="#262626" stroke-width="7.8" stroke-linecap="round"/><path d="M4.9,0H25.9" fill="none" stroke="#fff" stroke-width="3.3" stroke-dasharray="1 2.1" transform="skewX(-20)"/><path class="x w" d="M37.7,-10.0L34.1,-9.3A7.2,10.0 0 0 0 34.1,9.3L37.7,10.0"/><path class="h w" d="M45.2,3.6L37.7,10.6L30.3,3.6L30.3,-3.6L37.7,-10.6L45.2,-3.6Z"/></g>
<g transform="rotate(32 575.6 775.2)"><ellipse cx="575.6" cy="775.2" rx="3.2" ry="6.6" fill="none" stroke="#262626" stroke-width="4"/></g>
<g transform="translate(598,787.2)"><ellipse cx="0" cy="0" rx="6.7" ry="8.0" fill="none" stroke="#262626" stroke-width="3.8" transform="rotate(20)"/><ellipse class="k" cx="1.2" cy="0.8" rx="2.5" ry="3.0" transform="rotate(20)"/><path class="m" d="M-6.3,-0.8L-2.9,1.3"/></g>
<g transform="rotate(20 646.8 368.4)"><ellipse class="x" cx="646.8" cy="368.4" rx="7.6" ry="9.6"/><ellipse class="h" cx="647.0999999999999" cy="368.4" rx="2.7" ry="3.5"/></g>
<g transform="rotate(24 674.5 385)"><ellipse cx="674.5" cy="385" rx="4.6" ry="7.4" fill="none" stroke="#262626" stroke-width="3.2"/></g>
<g transform="translate(695.8,396.9) rotate(27.3)"><path d="M3.7,0H17.9" fill="none" stroke="#262626" stroke-width="7.4" stroke-linecap="round"/><path d="M4.7,0H15.9" fill="none" stroke="#fff" stroke-width="3.1" stroke-dasharray="1 2.1" transform="skewX(-20)"/><path class="x w" d="M27.7,-10.0L24.1,-9.3A7.2,10.0 0 0 0 24.1,9.3L27.7,10.0"/><path class="h w" d="M35.1,3.6L27.7,10.6L20.2,3.6L20.2,-3.6L27.7,-10.6L35.1,-3.6Z"/></g>
<g transform="rotate(20 583.6 538)"><ellipse class="x" cx="583.6" cy="538" rx="7.2" ry="9.4"/><path class="h" d="M587.2,535.2C584.3,531.4 580.7,535.2 581.4,539.9C582.2,543.2 585.8,542.7 587.6,539.4"/></g>
<g transform="translate(602.8,549.0) rotate(27.7)"><path d="M3.7,0H17.8" fill="none" stroke="#262626" stroke-width="7.4" stroke-linecap="round"/><path d="M4.7,0H15.8" fill="none" stroke="#fff" stroke-width="3.1" stroke-dasharray="1 2.1" transform="skewX(-20)"/><path class="x w" d="M27.6,-10.0L24.0,-9.3A7.2,10.0 0 0 0 24.0,9.3L27.6,10.0"/><path class="h w" d="M35.0,3.6L27.6,10.6L20.1,3.6L20.1,-3.6L27.6,-10.6L35.0,-3.6Z"/></g>
<g transform="translate(487.4,485.6)"><ellipse cx="0" cy="0" rx="7.8" ry="9.3" fill="none" stroke="#262626" stroke-width="3.8" transform="rotate(20)"/><ellipse class="k" cx="1.2" cy="0.8" rx="2.9" ry="3.5" transform="rotate(20)"/><path class="m" d="M-7.4,-1.0L-3.4,1.5"/></g>
<ellipse class="x" cx="942.6" cy="965.3" rx="2.8" ry="3.8"/><path class="h" d="M940.3 960.6L944.8 961.4"/>
<g transform="translate(966.4,980.8) rotate(20.6)"><path d="M2.6,0H10.5" fill="none" stroke="#262626" stroke-width="5.2" stroke-linecap="round"/><path d="M3.6,0H8.5" fill="none" stroke="#fff" stroke-width="2.2" stroke-dasharray="1 2.1" transform="skewX(-20)"/><path class="x w" d="M16.5,-6.4L14.2,-6.0A4.6,6.4 0 0 0 14.2,6.0L16.5,6.4"/><path class="h w" d="M21.2,2.3L16.5,6.8L11.7,2.3L11.7,-2.3L16.5,-6.8L21.2,-2.3Z"/></g></g>
<g id="bracket33">
<path class="h" d="M560.7,313C560.7,307 565,304.3 571.2,304.3C577.5,304.3 582,307 582,313L582.3,424C582.3,431 581,435 577,440.5L536.6,489.2"/>
<path class="h" d="M560.7,313L561.8,373.3L562.5,411C562.7,418.5 561.2,422.5 557.5,428L526,473.2C523.8,476.5 523.6,479.5 524.6,483.5L527,491.5L530.5,503C528.5,508 528.8,513.5 531,517.5C532.8,520.5 536,521.6 539.5,520.6C543.5,519.4 546.5,516 547.4,512C548,508.5 547,505.5 545,502.8L538.8,496L534.6,488.8"/>
<path class="m" d="M563.9,319L564.9,372L565.6,412C565.7,418 564.5,421.5 561.5,426L529.5,472.5C527.6,475.5 527.4,478 528.3,481.5L530.2,488.5L535.5,496.5C532.5,500 531,504 531.2,508"/>
<rect class="m" x="568" y="309.8" width="8.4" height="36.8" rx="3.8"/>
<path class="p" d="M571.4,313.5V343"/>
<path class="k" d="M535.2,509.6C535.8,507 539.6,506 541.8,507.4L539.6,510L541,512.6L536.6,514Z"/>
</g>
<g id="labels" opacity="0.999">
<text class="t" x="71.2" y="78.2" textLength="111.6" lengthAdjust="spacingAndGlyphs">2 PC. BODY</text>
<text class="t" x="260.2" y="78.2" textLength="109.2" lengthAdjust="spacingAndGlyphs">1 PC. BODY</text>
<text transform="translate(166.6,139.0) scale(0.86,1)">4</text>
<text transform="translate(164.9,172.5) scale(0.86,1)">5</text>
<text transform="translate(170.8,208.6) scale(0.86,1)">2</text>
<text transform="translate(170.8,251.7) scale(0.86,1)">3</text>
<text transform="translate(169.6,298.4) scale(0.86,1)">6</text>
<text transform="translate(168.3,339.8) scale(0.86,1)">7</text>
<text transform="translate(171.6,395.2) scale(0.86,1)">2</text>
<text transform="translate(172.8,453.4) scale(0.86,1)">7</text>
<text transform="translate(343.1,190.3) scale(0.86,1)">10</text>
<text transform="translate(343.6,229.5) scale(0.86,1)">11</text>
<text transform="translate(352.4,263.8) scale(0.86,1)">8</text>
<text transform="translate(352.1,334.2) scale(0.86,1)">9</text>
<text transform="translate(248.1,637.8) scale(0.86,1)">12</text>
<text transform="translate(252.8,694.9) scale(0.86,1)">13</text>
<text transform="translate(254.1,729.6) scale(0.86,1)">14</text>
<text transform="translate(246.5,757.8) scale(0.86,1)">16</text>
<text transform="translate(254.1,824.5) scale(0.86,1)">15</text>
<text transform="translate(257.5,877.4) scale(0.86,1)">17</text>
<text transform="translate(257.5,921.8) scale(0.86,1)">18</text>
<text transform="translate(250.1,986.6) scale(0.86,1)">17</text>
<text transform="translate(250.1,1021.9) scale(0.86,1)">19</text>
<text transform="translate(250.1,1055.0) scale(0.86,1)">20</text>
<text transform="translate(250.7,1094.4) scale(0.86,1)">21</text>
<text transform="translate(378.1,744.5) scale(0.86,1)">1</text>
<text transform="translate(462.1,802.3) scale(0.86,1)">26</text>
<text transform="translate(519.4,820.4) scale(0.86,1)">31</text>
<text transform="translate(546.1,834.8) scale(0.86,1)">32</text>
<text transform="translate(622.0,640.6) scale(0.86,1)">29</text>
<text transform="translate(660.6,666.0) scale(0.86,1)">28</text>
<text transform="translate(692.1,700.9) scale(0.86,1)">30</text>
<text transform="translate(720.5,717.7) scale(0.86,1)">29</text>
<text transform="translate(761.7,725.8) scale(0.86,1)">27</text>
<text transform="translate(869.6,657.6) scale(0.86,1)">25</text>
<text transform="translate(944.9,836.2) scale(0.86,1)">22</text>
<text transform="translate(972.3,935.8) scale(0.86,1)">24</text>
<text transform="translate(1006.2,959.5) scale(0.86,1)">23</text>
<text transform="translate(490.1,380.6) scale(0.86,1)">33</text>
<text transform="translate(477.6,448.3) scale(0.86,1)">39</text>
<text transform="translate(684.1,340.3) scale(0.86,1)">36</text>
<text transform="translate(713.1,358.4) scale(0.86,1)">35</text>
<text transform="translate(751.6,384.3) scale(0.86,1)">34</text>
<text transform="translate(618.7,509.3) scale(0.86,1)">38</text>
<text transform="translate(659.7,530.2) scale(0.86,1)">37</text>
<text transform="translate(965.0,1145.0) scale(0.86,1)">38036</text>
</g>
</svg>
</body></html>
